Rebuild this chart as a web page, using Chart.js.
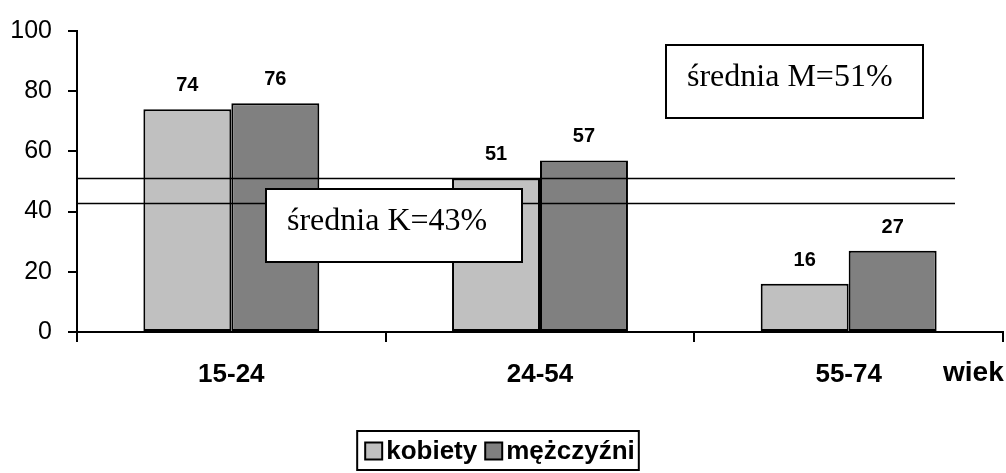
<!DOCTYPE html>
<html>
<head>
<meta charset="utf-8">
<script src="https://cdn.jsdelivr.net/npm/chart.js@4/dist/chart.umd.min.js"></script>
<style>
  html, body { margin: 0; padding: 0; background: #fff; }
  #wrap { width: 1006px; height: 473px; position: relative; }
</style>
</head>
<body>
<div id="wrap"><canvas id="chart"></canvas></div>
<script>
const categories = ['15-24', '24-54', '55-74'];
const kobiety = [74, 51, 16];
const mezczyzni = [76, 57, 27];
const seriesNames = ['kobiety', 'mężczyźni'];
const yTicks = [0, 20, 40, 60, 80, 100];
const avgK = 43;
const avgM = 51;
const axisTitle = 'wiek';

const FONT = '"Liberation Sans", Arial, sans-serif';

// averages lines, text boxes, value labels and the legend
const extras = {
  id: 'extras',
  afterDatasetsDraw(chart) {
    const ctx = chart.ctx;
    const area = chart.chartArea;
    const y = chart.scales.y;
    ctx.save();

    // average lines
    ctx.strokeStyle = '#000';
    ctx.lineWidth = 1.5;
    [avgM, avgK].forEach(v => {
      const py = Math.round(y.getPixelForValue(v)) + 0.5;
      ctx.beginPath();
      ctx.moveTo(area.left, py);
      ctx.lineTo(area.right - 48, py);
      ctx.stroke();
    });

    // value labels
    ctx.fillStyle = '#000';
    ctx.font = 'bold 20px ' + FONT;
    ctx.textAlign = 'center';
    ctx.textBaseline = 'alphabetic';
    chart.data.datasets.forEach((ds, i) => {
      chart.getDatasetMeta(i).data.forEach((bar, j) => {
        ctx.fillText(String(ds.data[j]), bar.x, bar.y - 18);
      });
    });

    // text boxes
    const boxes = [
      { x: 266, y: 189, w: 256, h: 73, text: 'średnia K=' + avgK + '%' },
      { x: 666, y: 45, w: 257, h: 73, text: 'średnia M=' + avgM + '%' }
    ];
    ctx.font = '32px "Liberation Serif", "Times New Roman", serif';
    ctx.textAlign = 'left';
    boxes.forEach(b => {
      ctx.fillStyle = '#fff';
      ctx.fillRect(b.x, b.y, b.w, b.h);
      ctx.lineWidth = 2;
      ctx.strokeStyle = '#000';
      ctx.strokeRect(b.x, b.y, b.w, b.h);
      ctx.fillStyle = '#000';
      ctx.fillText(b.text, b.x + 21, b.y + 41);
    });

    // axis title
    ctx.font = 'bold 28px ' + FONT;
    ctx.textAlign = 'left';
    ctx.textBaseline = 'middle';
    ctx.fillText(axisTitle, 943, 373);

    // legend with frame
    ctx.font = 'bold 26px ' + FONT;
    ctx.textBaseline = 'middle';
    const items = chart.data.datasets.map(ds => ({ label: ds.label, color: ds.backgroundColor }));
    const gap = 4, sq = 17, space = 8;
    let total = 0;
    items.forEach((it, i) => {
      it.w = sq + gap + ctx.measureText(it.label).width;
      total += it.w + (i ? space : 0);
    });
    const cx = (area.left + area.right) / 2 - 40;
    const ly = 451;
    let lx = cx - total / 2;
    ctx.lineWidth = 2;
    ctx.strokeStyle = '#000';
    ctx.strokeRect(lx - 8, 431, total + 12, 39);
    items.forEach(it => {
      ctx.fillStyle = it.color;
      ctx.fillRect(lx, ly - sq / 2, sq, sq);
      ctx.lineWidth = 2;
      ctx.strokeRect(lx, ly - sq / 2, sq, sq);
      ctx.fillStyle = '#000';
      ctx.fillText(it.label, lx + sq + gap, ly + 1);
      lx += it.w + space;
    });
    ctx.restore();
  }
};

new Chart(document.getElementById('chart'), {
  type: 'bar',
  data: {
    labels: categories,
    datasets: [
      {
        label: seriesNames[0],
        data: kobiety,
        backgroundColor: '#c0c0c0',
        borderColor: '#000',
        borderWidth: 2,
        borderSkipped: false
      },
      {
        label: seriesNames[1],
        data: mezczyzni,
        backgroundColor: '#808080',
        borderColor: '#000',
        borderWidth: 2,
        borderSkipped: false
      }
    ]
  },
  options: {
    responsive: true,
    maintainAspectRatio: false,
    animation: false,
    layout: { padding: { top: 10, right: 3, left: 0, bottom: 45 } },
    datasets: { bar: { barPercentage: 1, categoryPercentage: 0.57 } },
    plugins: {
      tooltip: { enabled: false },
      legend: { display: false }
    },
    scales: {
      x: {
        grid: { display: true, drawOnChartArea: false, drawTicks: true, tickLength: 10, color: '#000', lineWidth: 2, offset: true },
        border: { display: true, color: '#000', width: 2 },
        ticks: {
          color: '#000',
          padding: 17,
          font: { family: FONT, size: 26, weight: 'bold' }
        },
        afterFit(scale) { scale.height = 96; }
      },
      y: {
        min: 0,
        max: 100,
        afterBuildTicks(scale) { scale.ticks = yTicks.map(v => ({ value: v })); },
        grid: { display: true, drawOnChartArea: false, drawTicks: true, tickLength: 9, color: '#000', lineWidth: 2 },
        border: { display: true, color: '#000', width: 2 },
        ticks: {
          color: '#000',
          padding: 16,
          font: { family: FONT, size: 25 }
        },
        afterFit(scale) { scale.width = 77; }
      }
    }
  },
  plugins: [extras]
});
</script>
</body>
</html>
